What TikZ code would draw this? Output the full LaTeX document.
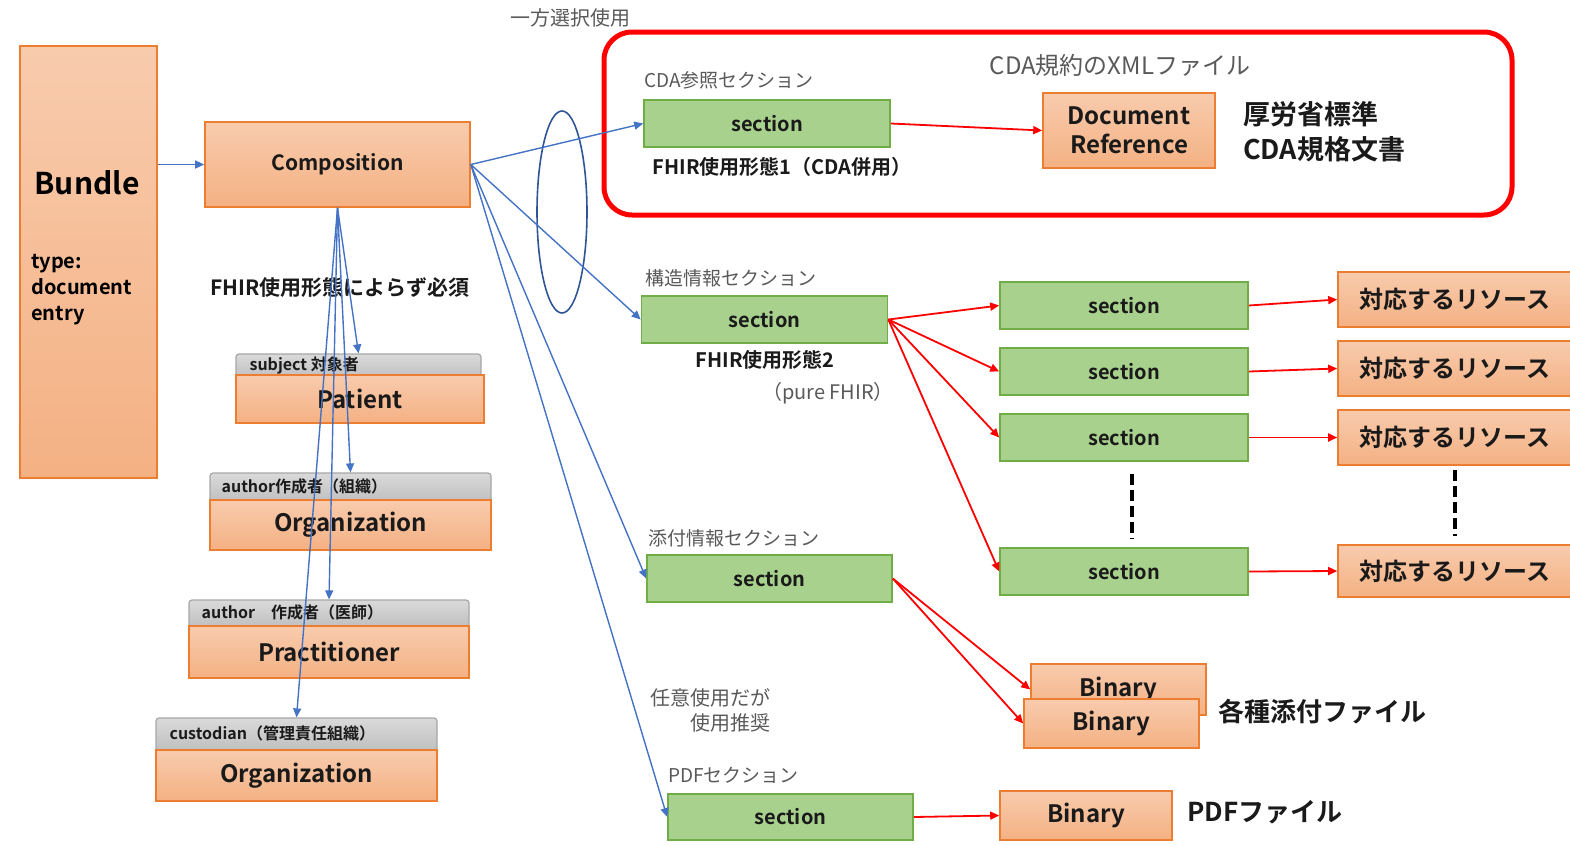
\documentclass[tikz,border=0pt]{standalone}
\usepackage{fontspec}
\setmainfont{Noto Sans CJK JP}[BoldFont={Noto Sans CJK JP Bold}]
\usetikzlibrary{arrows.meta, positioning, shapes.geometric}

\definecolor{restop}{HTML}{F8CBAD}
\definecolor{resbot}{HTML}{F4B183}
\definecolor{resline}{HTML}{ED7D31}
\definecolor{secfill}{HTML}{A9D18E}
\definecolor{secline}{HTML}{70AD47}
\definecolor{hdrtop}{HTML}{DADADA}
\definecolor{hdrbot}{HTML}{BFBFBF}
\definecolor{hdrline}{HTML}{A6A6A6}
\definecolor{linkblue}{HTML}{4472C4}
\definecolor{ringblue}{HTML}{2F5597}
\definecolor{notegray}{HTML}{595959}
\definecolor{inkdark}{HTML}{1A1A1A}

\newcommand{\fsz}[1]{\fontsize{#1}{#1}\selectfont}

\begin{document}
\begin{tikzpicture}[
    x=1pt, y=-1pt,
    >={Triangle[length=9pt, width=8pt]},
    box/.style={draw, line width=1.6pt, inner sep=0pt, text=inkdark},
    res/.style={box, draw=resline, top color=restop, bottom color=resbot,
                font=\bfseries\fsz{24}},
    sect/.style={box, draw=secline, fill=secfill, minimum width=246pt,
                 minimum height=47pt, font=\bfseries\fsz{20}},
    hdr/.style={draw=hdrline, line width=1.2pt, top color=hdrtop,
                bottom color=hdrbot, rounded corners=3pt},
    hdrtext/.style={anchor=west, inner sep=0pt, text=inkdark,
                    font=\bfseries\fsz{16}},
    note/.style={inner sep=0pt, text=notegray, font=\fsz{19}},
    usage/.style={inner sep=0pt, text=inkdark, font=\bfseries\fsz{20}},
    big/.style={inner sep=0pt, text=inkdark, font=\bfseries\fsz{26}},
    link/.style={->, draw=linkblue, line width=1.4pt},
    flow/.style={->, draw=red, line width=1.8pt},
    dots/.style={draw=black, line width=3.5pt, dash pattern=on 11pt off 5pt},
]
  \useasboundingbox (0,0) rectangle (1570,844);

  \node[res, minimum width=137pt, minimum height=432pt] (bundle) at (88.5,262) {};
  \node[inner sep=0pt, font=\bfseries\fsz{30}] (bundlename) at (87,183) {Bundle};
  \node[inner sep=0pt, anchor=west, align=left, font=\bfseries\fontsize{20}{26}\selectfont]
    (bundletype) at (31,290) {type:\\document\\entry};

  \node[res, minimum width=265pt, minimum height=85pt, font=\bfseries\fsz{21}]
    (comp) at (337.5,164.5) {Composition};
  \node[usage, font=\bfseries\fsz{21}] (mandatory) at (340,288) {FHIR使用形態によらず必須};

  \node[hdr, minimum width=245pt, minimum height=24pt] (pathdr) at (358.5,366) {};
  \node[res, minimum width=248pt, minimum height=48pt] (patient) at (360,399) {Patient};
  \node[hdrtext] at ([xshift=14pt, yshift=1pt]pathdr.west) {subject 対象者};

  \node[hdr, minimum width=281pt, minimum height=29pt] (org1hdr) at (350.5,487.5) {};
  \node[res, minimum width=281pt, minimum height=50pt] (org1) at (350.5,525) {Organization};
  \node[hdrtext] at ([xshift=12pt, yshift=1pt]org1hdr.west) {author作成者（組織）};

  \node[hdr, minimum width=280pt, minimum height=27pt] (prachdr) at (329,613.5) {};
  \node[res, minimum width=280pt, minimum height=52pt] (prac) at (329,652) {Practitioner};
  \node[hdrtext] at ([xshift=13pt, yshift=1pt]prachdr.west) {author\quad 作成者（医師）};

  \node[hdr, minimum width=281pt, minimum height=33pt] (org2hdr) at (296.5,734.5) {};
  \node[res, minimum width=281pt, minimum height=51pt] (org2) at (296.5,775.5) {Organization};
  \node[hdrtext] at ([xshift=14pt, yshift=1pt]org2hdr.west) {custodian（管理責任組織）};

  \node[draw=ringblue, line width=1.6pt, ellipse, minimum width=50pt,
        minimum height=202pt] (choice) at (562,212) {};
  \node[note, font=\fsz{20}] (choicenote) at (570,18) {一方選択使用};

  \node[draw=red, line width=5pt, rounded corners=28pt, minimum width=908pt,
        minimum height=183pt] (cdaframe) at (1058,123.5) {};
  \node[note, font=\fsz{24}] (xmlnote) at (1120,65) {CDA規約のXMLファイル};
  \node[note, anchor=west] (cdalbl) at (644,80) {CDA参照セクション};
  \node[sect] (cdasec) at (767,123.5) {section};
  \node[usage] (usage1) at (782,167) {FHIR使用形態1（CDA併用）};
  \node[res, minimum width=172pt, minimum height=75pt, align=center,
        font=\bfseries\fontsize{24}{29}\selectfont] (docref) at (1129,130.5) {Document\\Reference};
  \node[big, anchor=west, align=left, font=\bfseries\fontsize{27}{35}\selectfont]
    (cdastd) at (1243,132) {厚労省標準\\CDA規格文書};

  \node[note, anchor=west] (strlbl) at (645,278) {構造情報セクション};
  \node[sect] (strsec) at (764.5,319.5) {section};
  \node[usage] (usage2) at (765,360) {FHIR使用形態2};
  \node[note, font=\fsz{20}] (purenote) at (828,393) {（pure FHIR）};

  \foreach \i/\y in {1/305.5, 2/371.5, 3/437.5, 4/571.5}
    \node[sect, minimum width=248pt] (sub\i) at (1124,\y) {section};
  \foreach \i/\y/\h in {1/299.5/55, 2/368.5/55, 3/437.5/55, 4/571/52}
    \node[res, minimum width=234pt, minimum height=\h pt] (rsc\i) at (1455,\y) {対応するリソース};

  \draw[dots] ([xshift=8pt, yshift=-12pt]sub3.south) -- ([xshift=8pt, yshift=8pt]sub4.north);
  \draw[dots] ([yshift=-4pt]rsc3.south) -- ([yshift=8pt]rsc4.north);

  \node[note, anchor=west] (attlbl) at (648,538) {添付情報セクション};
  \node[sect, minimum width=245pt] (attsec) at (769.5,578.5) {section};
  \node[res, minimum width=175pt, minimum height=51pt] (bin1) at (1118.5,689.5) {Binary};
  \node[res, minimum width=175pt, minimum height=49pt] (bin2) at (1111.5,723.5) {Binary};
  \node[big, anchor=west] (attfiles) at (1218,712) {各種添付ファイル};

  \node[note, anchor=east, align=right, font=\fontsize{20}{25}\selectfont]
    (optnote) at (771,710) {任意使用だが\\使用推奨};

  \node[note, anchor=west] (pdflbl) at (668,775) {PDFセクション};
  \node[sect, minimum width=245pt, minimum height=46pt] (pdfsec) at (790.5,817) {section};
  \node[res, minimum width=172pt, minimum height=49pt] (bin3) at (1086,815.5) {Binary};
  \node[big, anchor=west] (pdffile) at (1187,812) {PDFファイル};

  \draw[link] (bundle.east |- comp) -- (comp.west);
  \foreach \t in {pathdr, org1hdr, prachdr, org2hdr}
    \draw[link] (comp.south) -- (\t.north);
  \foreach \t in {cdasec, strsec, attsec, pdfsec}
    \draw[link] (comp.east) -- (\t.west);

  \draw[flow] (cdasec.east) -- (docref.west);
  \foreach \i in {1,...,4} {
    \draw[flow] (strsec.east) -- (sub\i.west);
    \draw[flow] (sub\i.east) -- (rsc\i.west);
  }
  \foreach \b in {bin1, bin2}
    \draw[flow] (attsec.east) -- (\b.west);
  \draw[flow] (pdfsec.east) -- (bin3.west);
\end{tikzpicture}
\end{document}
